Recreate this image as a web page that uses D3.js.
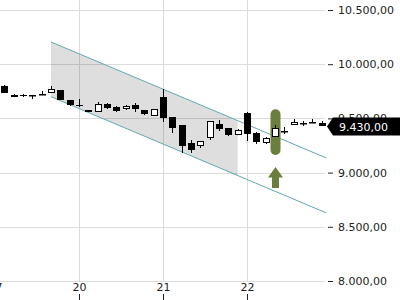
<!DOCTYPE html>
<html><head><meta charset="utf-8">
<script src="https://cdn.jsdelivr.net/npm/d3@7"></script>
<style>html,body{margin:0;padding:0;background:#fff;overflow:hidden}svg{display:block}</style>
</head><body>
<svg id="c" width="400" height="300"></svg>
<script>
// ---- data ----
const dayLabels = ["17", "20", "21", "22"];
const dayIndex = [-1, 8, 17, 26];
const yTicks = [8000, 8500, 9000, 9500, 10000, 10500];
const opens  = [9802,9720,9712,9716,9727,9737,9762,9670,9626,9578,9560,9633,9608,9584,9624,9578,9525,9697,9510,9439,9276,9250,9321,9444,9409,9351,9554,9363,9270,9326,9384,9439,9455,9464,9455];
const highs  = [9805,9722,9722,9718,9750,9802,9765,9672,9679,9580,9651,9642,9612,9620,9642,9580,9590,9768,9512,9441,9301,9292,9478,9485,9411,9398,9556,9375,9324,9439,9423,9494,9476,9492,9476];
const lows   = [9730,9695,9698,9682,9726,9735,9668,9619,9608,9558,9555,9587,9559,9582,9562,9531,9522,9470,9363,9185,9184,9224,9305,9384,9338,9349,9292,9264,9268,9324,9353,9437,9430,9458,9428];
const closes = [9732,9698,9705,9716,9729,9768,9670,9621,9625,9560,9633,9593,9571,9617,9587,9541,9587,9508,9409,9245,9208,9289,9476,9405,9351,9396,9356,9285,9322,9414,9386,9470,9456,9465,9430];
const channelUpper = [[5, 10205], [34.5, 9135]];
const channelLower = [[5, 9700], [34.5, 8628]];
const channelFillEnd = 25;
const markerIndex = 29;
const markerPill = [9584, 9162];
const markerArrow = [9052, 8858];
const lastPrice = 9430;

// ---- setup ----
const svg = d3.select("#c");
const x = d3.scaleLinear().domain([-1, 35]).range([-5, 331]);
const y = d3.scaleLinear().domain([8000, 10500]).range([281, 10]);
const loc = d3.formatLocale({decimal: ",", thousands: ".", grouping: [3], currency: ["", ""]});
const fmt = loc.format(",.2f");
const font = "DejaVu Sans";
const gridColor = "#dcdcdc";
const green = "#6c7e3b";

// gridlines
svg.append("g").selectAll("line").data(yTicks).join("line")
  .attr("x1", 0).attr("x2", 325)
  .attr("y1", d => Math.round(y(d)) + 0.5).attr("y2", d => Math.round(y(d)) + 0.5)
  .attr("stroke", gridColor);
svg.append("g").selectAll("line").data(dayIndex).join("line")
  .attr("x1", d => Math.round(x(d)) + 0.5).attr("x2", d => Math.round(x(d)) + 0.5)
  .attr("y1", 0).attr("y2", 281)
  .attr("stroke", gridColor);

// channel fill
const slopeU = (channelUpper[1][1] - channelUpper[0][1]) / (channelUpper[1][0] - channelUpper[0][0]);
const slopeL = (channelLower[1][1] - channelLower[0][1]) / (channelLower[1][0] - channelLower[0][0]);
const uAt = i => channelUpper[0][1] + slopeU * (i - channelUpper[0][0]);
const lAt = i => channelLower[0][1] + slopeL * (i - channelLower[0][0]);
const i0 = channelUpper[0][0];
const poly = [[i0, uAt(i0)], [channelFillEnd, uAt(channelFillEnd)], [channelFillEnd, lAt(channelFillEnd)], [i0, lAt(i0)]];
svg.append("path")
  .attr("d", d3.line().x(d => x(d[0])).y(d => y(d[1]))(poly) + "Z")
  .attr("fill", "#000").attr("fill-opacity", 0.13);

// channel lines
[channelUpper, channelLower].forEach(seg => {
  svg.append("path")
    .attr("d", d3.line().x(d => x(d[0])).y(d => y(d[1]))(seg))
    .attr("stroke", "#62a9ae").attr("stroke-width", 1).attr("fill", "none");
});

// marker pill and arrow
const mx = Math.round(x(markerIndex));
svg.append("rect")
  .attr("x", mx - 4.5).attr("width", 10)
  .attr("y", y(markerPill[0])).attr("height", y(markerPill[1]) - y(markerPill[0]))
  .attr("rx", 5).attr("fill", green);
const at = y(markerArrow[0]), ab = y(markerArrow[1]);
const ah = at + 10.5;
svg.append("path")
  .attr("d", `M${mx + 0.5},${at} L${mx + 8},${ah} L${mx + 4},${ah} L${mx + 4},${ab} L${mx - 3},${ab} L${mx - 3},${ah} L${mx - 7},${ah} Z`)
  .attr("fill", green);

// candles
const data = opens.map((o, i) => ({i, o, h: highs[i], l: lows[i], c: closes[i]}));
const cg = svg.append("g");
data.forEach(d => {
  const cx = Math.round(x(d.i));
  const up = d.c >= d.o;
  cg.append("line")
    .attr("x1", cx + 0.5).attr("x2", cx + 0.5)
    .attr("y1", Math.round(y(d.h))).attr("y2", Math.round(y(d.l)))
    .attr("stroke", "#000").attr("stroke-width", 1);
  const top = Math.round(y(Math.max(d.o, d.c)));
  const bot = Math.round(y(Math.min(d.o, d.c)));
  if (up) {
    cg.append("rect")
      .attr("x", cx - 3 + 0.5).attr("width", 6)
      .attr("y", top + 0.5).attr("height", Math.max(bot - top - 1, 0.5))
      .attr("fill", "#fff").attr("stroke", "#000").attr("stroke-width", 1);
  } else {
    cg.append("rect")
      .attr("x", cx - 3).attr("width", 7)
      .attr("y", top).attr("height", Math.max(bot - top, 1))
      .attr("fill", "#000");
  }
});

// y axis (right)
const ya = svg.append("g").attr("transform", "translate(328,0)")
  .call(d3.axisRight(y).tickValues(yTicks).tickSize(5).tickPadding(5).tickFormat(fmt));
ya.select(".domain").remove();
ya.selectAll("text").attr("font-family", font).attr("font-size", 11).attr("fill", "#222");
ya.selectAll("line").attr("stroke", "#222");

// x axis labels and ticks
const xg = svg.append("g");
xg.selectAll("text").data(dayIndex).join("text")
  .attr("x", d => x(d) + 0.5).attr("y", 291)
  .attr("text-anchor", "middle")
  .attr("font-family", font).attr("font-size", 11).attr("fill", "#222")
  .text((d, k) => dayLabels[k]);
xg.selectAll("line").data(dayIndex).join("line")
  .attr("x1", d => Math.round(x(d)) + 0.5).attr("x2", d => Math.round(x(d)) + 0.5)
  .attr("y1", 294).attr("y2", 300).attr("stroke", "#222");

// last price label
const py = Math.round(y(lastPrice)) + 0.5;
svg.append("path")
  .attr("d", `M327,${py} L333,${py - 9} L400,${py - 9} L400,${py + 9} L333,${py + 9} Z`)
  .attr("fill", "#000");
svg.append("text").attr("x", 339).attr("y", py + 4)
  .attr("font-family", font).attr("font-size", 11).attr("fill", "#fff")
  .text(fmt(lastPrice));
</script>
</body></html>
